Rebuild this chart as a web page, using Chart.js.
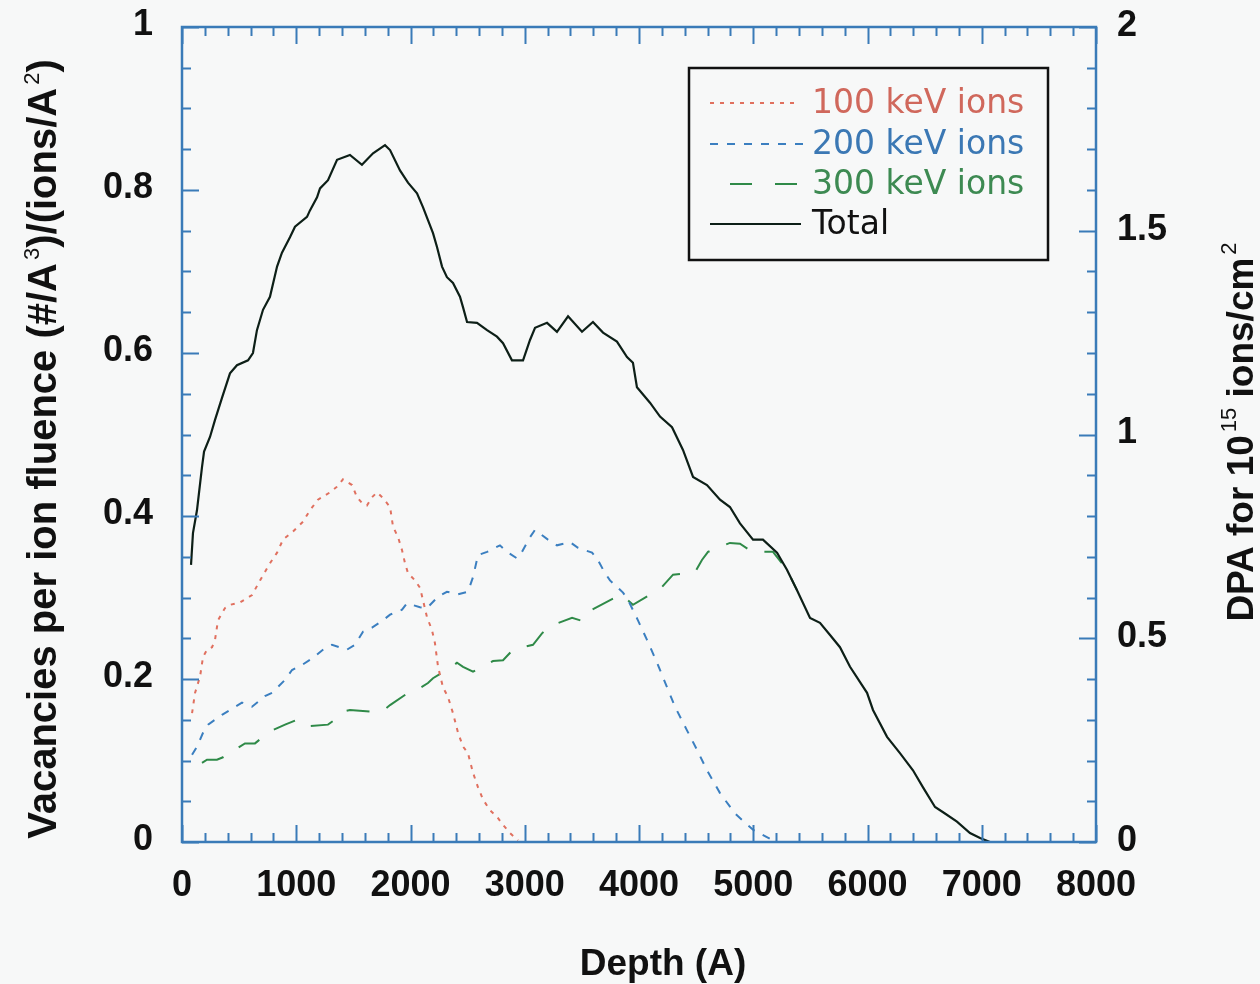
<!DOCTYPE html>
<html><head><meta charset="utf-8">
<script src="https://cdn.jsdelivr.net/npm/chart.js@4.4.1/dist/chart.umd.min.js"></script>
<style>html,body{margin:0;padding:0;background:#f7f8f8;}canvas{display:block}</style>
</head><body>
<canvas id="c" width="1260" height="984"></canvas>
<script>
// ---- data ----
const xTickValues = [0,1000,2000,3000,4000,5000,6000,7000,8000];
const yTickLabels = ['0','0.2','0.4','0.6','0.8','1'];
const y2TickLabels = ['0','0.5','1','1.5','2'];
const seriesLabels = ['100 keV ions','200 keV ions','300 keV ions','Total'];

const totalDepth = [79,96,131,175,193,245,289,350,420,481,578,621,656,709,770,832,875,945,989,1094,1120,1182,1208,1278,1357,1470,1575,1672,1777,1821,1908,1978,2057,2109,2153,2197,2232,2276,2319,2372,2433,2460,2495,2582,2670,2757,2810,2888,2985,3046,3090,3195,3282,3379,3501,3597,3685,3807,3895,3947,3982,4096,4184,4289,4385,4473,4595,4709,4796,4884,4998,5085,5208,5295,5383,5497,5584,5672,5759,5847,5996,6048,6171,6284,6398,6486,6591,6678,6783,6897,6985,7072,7186];
const totalVac = [0.340,0.379,0.407,0.460,0.479,0.497,0.518,0.545,0.575,0.585,0.591,0.600,0.628,0.653,0.669,0.706,0.723,0.742,0.755,0.767,0.775,0.791,0.802,0.812,0.837,0.843,0.831,0.845,0.855,0.849,0.824,0.809,0.796,0.779,0.763,0.747,0.730,0.706,0.693,0.686,0.669,0.656,0.638,0.637,0.628,0.620,0.612,0.591,0.591,0.616,0.631,0.637,0.626,0.645,0.626,0.638,0.625,0.614,0.595,0.588,0.558,0.539,0.522,0.509,0.481,0.448,0.438,0.420,0.411,0.391,0.371,0.371,0.355,0.334,0.309,0.275,0.269,0.254,0.239,0.215,0.183,0.162,0.129,0.109,0.088,0.067,0.043,0.035,0.025,0.011,0.005,0,0];

const ion100Depth = [88,114,158,184,219,263,289,315,376,420,508,613,683,770,832,884,972,1059,1120,1190,1295,1357,1409,1488,1532,1575,1619,1663,1707,1759,1821,1847,1891,1926,1952,1978,2039,2083,2109,2144,2188,2214,2241,2284,2328,2372,2416,2460,2503,2547,2591,2635,2696,2757,2810,2871,2941];
const ion100Vac = [0.158,0.183,0.203,0.227,0.236,0.239,0.248,0.272,0.287,0.291,0.294,0.303,0.321,0.342,0.355,0.371,0.381,0.393,0.407,0.420,0.429,0.436,0.445,0.438,0.423,0.416,0.413,0.423,0.429,0.422,0.411,0.387,0.374,0.358,0.342,0.330,0.321,0.312,0.297,0.276,0.260,0.244,0.215,0.190,0.178,0.158,0.134,0.117,0.109,0.085,0.067,0.052,0.039,0.031,0.021,0.011,0.002];

const ion200Depth = [88,131,184,228,350,420,525,613,726,788,902,963,1059,1147,1252,1313,1444,1514,1584,1663,1759,1821,1926,1969,2083,2144,2241,2319,2416,2503,2547,2591,2670,2783,2845,2932,2976,3046,3090,3203,3282,3396,3466,3589,3632,3702,3746,3860,3904,3991,4070,4158,4245,4315,4420,4508,4595,4709,4840,4998,5173];
const ion200Vac = [0.107,0.117,0.134,0.144,0.156,0.162,0.171,0.166,0.179,0.183,0.199,0.211,0.218,0.226,0.238,0.242,0.236,0.242,0.258,0.263,0.272,0.279,0.285,0.293,0.288,0.287,0.301,0.307,0.304,0.307,0.325,0.352,0.356,0.364,0.356,0.348,0.356,0.374,0.383,0.371,0.364,0.368,0.361,0.355,0.348,0.330,0.321,0.306,0.297,0.272,0.248,0.220,0.190,0.166,0.137,0.113,0.088,0.060,0.035,0.015,0.002];

const ion300Depth = [175,219,306,359,551,639,700,744,902,1007,1059,1103,1278,1357,1409,1470,1646,1759,1821,1978,2083,2153,2197,2363,2407,2460,2547,2722,2810,2897,3072,3151,3221,3414,3510,3589,3764,3851,3947,4114,4201,4298,4490,4551,4604,4796,4884,4989,5173,5295,5383];
const ion300Vac = [0.097,0.101,0.101,0.104,0.121,0.121,0.128,0.134,0.144,0.150,0.144,0.142,0.144,0.152,0.160,0.162,0.160,0.161,0.168,0.183,0.189,0.195,0.201,0.215,0.220,0.215,0.209,0.222,0.223,0.236,0.242,0.256,0.265,0.275,0.271,0.285,0.298,0.303,0.291,0.305,0.313,0.328,0.331,0.346,0.356,0.367,0.366,0.356,0.356,0.334,0.309];

// ---- styling ----
const AXIS = '#3a7bb8';
const COL = {r:'#e0705f', b:'#3b7fc0', g:'#2f8a48', k:'#0d1f17'};
const TXT = {r:'#d0685c', b:'#3b78b4', g:'#3d8a52', k:'#111111'};
const pts = (xs, ys) => xs.map((v,i)=>({x:v, y:ys[i]}));

const datasets = [
  {label: seriesLabels[3], data: pts(totalDepth,totalVac), borderColor: COL.k, borderWidth: 2.2, order: 0},
  {label: seriesLabels[0], data: pts(ion100Depth,ion100Vac), borderColor: COL.r, borderWidth: 2, borderDash:[4,6], order: 1},
  {label: seriesLabels[1], data: pts(ion200Depth,ion200Vac), borderColor: COL.b, borderWidth: 2, borderDash:[8,9], order: 2},
  {label: seriesLabels[2], data: pts(ion300Depth,ion300Vac), borderColor: COL.g, borderWidth: 2, borderDash:[23,18], order: 3}
];

function drawRich(ctx, parts, x, y, rotate, size) {
  const big = 'bold ' + size + 'px "Liberation Sans", Arial, sans-serif';
  const sup = '22px "Liberation Sans", Arial, sans-serif';
  let w = 0;
  parts.forEach(p => { ctx.font = p[1] ? sup : big; w += ctx.measureText(p[0]).width + (p[1]?3:0); });
  ctx.save();
  ctx.translate(x, y);
  if (rotate) ctx.rotate(-Math.PI/2);
  ctx.textBaseline = 'alphabetic';
  ctx.textAlign = 'left';
  ctx.fillStyle = '#111';
  let cx = -w/2;
  parts.forEach(p => {
    if (p[1]) { ctx.font = sup; cx += 3; ctx.fillText(p[0], cx, -17); }
    else { ctx.font = big; ctx.fillText(p[0], cx, 0); }
    cx += ctx.measureText(p[0]).width;
  });
  ctx.restore();
}

const framePlugin = {
  id: 'frame',
  afterDatasetsDraw(chart) {
    const {ctx, chartArea: a, scales: {x, y, y2}} = chart;
    ctx.save();
    ctx.strokeStyle = AXIS;
    ctx.lineWidth = 2;
    ctx.beginPath();
    for (let i = 0; i <= 40; i++) {
      const px = Math.round(x.getPixelForValue(i * 200)) + 0.5;
      const L = i % 5 === 0 ? 17 : 9;
      ctx.moveTo(px, a.bottom); ctx.lineTo(px, a.bottom - L);
      ctx.moveTo(px, a.top); ctx.lineTo(px, a.top + L);
    }
    for (let i = 0; i <= 20; i++) {
      const py = Math.round(y.getPixelForValue(i * 0.05)) + 0.5;
      const L = i % 4 === 0 ? 17 : 9;
      ctx.moveTo(a.left, py); ctx.lineTo(a.left + L, py);
    }
    for (let i = 0; i <= 20; i++) {
      const py = Math.round(y2.getPixelForValue(i * 0.1)) + 0.5;
      const L = i % 5 === 0 ? 17 : 9;
      ctx.moveTo(a.right, py); ctx.lineTo(a.right - L, py);
    }
    ctx.stroke();
    ctx.lineWidth = 2.5;
    ctx.strokeRect(a.left, a.top, a.right - a.left, a.bottom - a.top);

    // legend box
    const lx = 689, ly = 68, lw = 359, lh = 192;
    ctx.fillStyle = '#f7f8f8';
    ctx.fillRect(lx, ly, lw, lh);
    ctx.strokeStyle = '#111';
    ctx.lineWidth = 2.5;
    ctx.strokeRect(lx, ly, lw, lh);
    const rows = [
      {ds: 1, col: COL.r, txt: TXT.r, y: 103, x0: 710, x1: 800},
      {ds: 2, col: COL.b, txt: TXT.b, y: 144, x0: 710, x1: 803},
      {ds: 3, col: COL.g, txt: TXT.g, y: 184, x0: 730, x1: 797},
      {ds: 0, col: COL.k, txt: TXT.k, y: 224, x0: 710, x1: 801}
    ];
    ctx.font = '33px "DejaVu Sans", sans-serif';
    ctx.textBaseline = 'middle';
    ctx.textAlign = 'left';
    rows.forEach(r => {
      const d = chart.data.datasets[r.ds];
      ctx.save();
      ctx.strokeStyle = r.col;
      ctx.lineWidth = 2;
      ctx.setLineDash(r.ds === 3 ? [22, 23] : (d.borderDash || []));
      ctx.beginPath(); ctx.moveTo(r.x0, r.y); ctx.lineTo(r.x1, r.y); ctx.stroke();
      ctx.restore();
      ctx.fillStyle = r.txt;
      ctx.fillText(d.label, 812, r.y + 1);
    });

    // axis titles
    drawRich(ctx, [['Vacancies per ion fluence (#/A', false], ['3', true], [')/(ions/A', false], ['2', true], [')', false]], 56, 449, true, 40);
    drawRich(ctx, [['DPA for 10', false], ['15', true], [' ions/cm', false], ['2', true]], 1253, 432, true, 37);
    drawRich(ctx, [['Depth (A)', false]], 663, 975, false, 37);
    ctx.restore();
  }
};

const tickFont = {family: '"Liberation Sans", Arial, sans-serif', size: 36, weight: 'bold'};
const fixV = w => s => { s.width = w; s.paddingTop = 0; s.paddingBottom = 0; };

new Chart(document.getElementById('c'), {
  type: 'line',
  data: {datasets},
  options: {
    responsive: false,
    animation: false,
    events: [],
    layout: {padding: {top: 27, left: 0, right: 0, bottom: 0}},
    elements: {point: {radius: 0}, line: {tension: 0, fill: false}},
    plugins: {legend: {display: false}, tooltip: {enabled: false}},
    scales: {
      x: {
        type: 'linear', position: 'bottom', min: 0, max: 8000,
        afterBuildTicks: s => { s.ticks = xTickValues.map(v => ({value: v})); },
        ticks: {font: tickFont, color: '#111', padding: 22, maxRotation: 0, autoSkip: false, callback: v => String(v)},
        grid: {display: false, drawTicks: false},
        border: {display: false},
        afterFit: s => { s.height = 142; s.paddingLeft = 0; s.paddingRight = 0; }
      },
      y: {
        type: 'linear', position: 'left', min: 0, max: 1,
        afterBuildTicks: s => { s.ticks = yTickLabels.map(t => ({value: parseFloat(t)})); },
        ticks: {font: tickFont, color: '#111', padding: 29, labelOffset: -2, callback: (v, i) => yTickLabels[i]},
        grid: {display: false, drawTicks: false},
        border: {display: false},
        afterFit: fixV(182)
      },
      y2: {
        type: 'linear', position: 'right', min: 0, max: 2,
        afterBuildTicks: s => { s.ticks = y2TickLabels.map(t => ({value: parseFloat(t)})); },
        ticks: {font: tickFont, color: '#111', padding: 21, labelOffset: -1, callback: (v, i) => y2TickLabels[i]},
        grid: {display: false, drawTicks: false},
        border: {display: false},
        afterFit: fixV(164)
      }
    }
  },
  plugins: [framePlugin]
});
</script>
</body></html>
